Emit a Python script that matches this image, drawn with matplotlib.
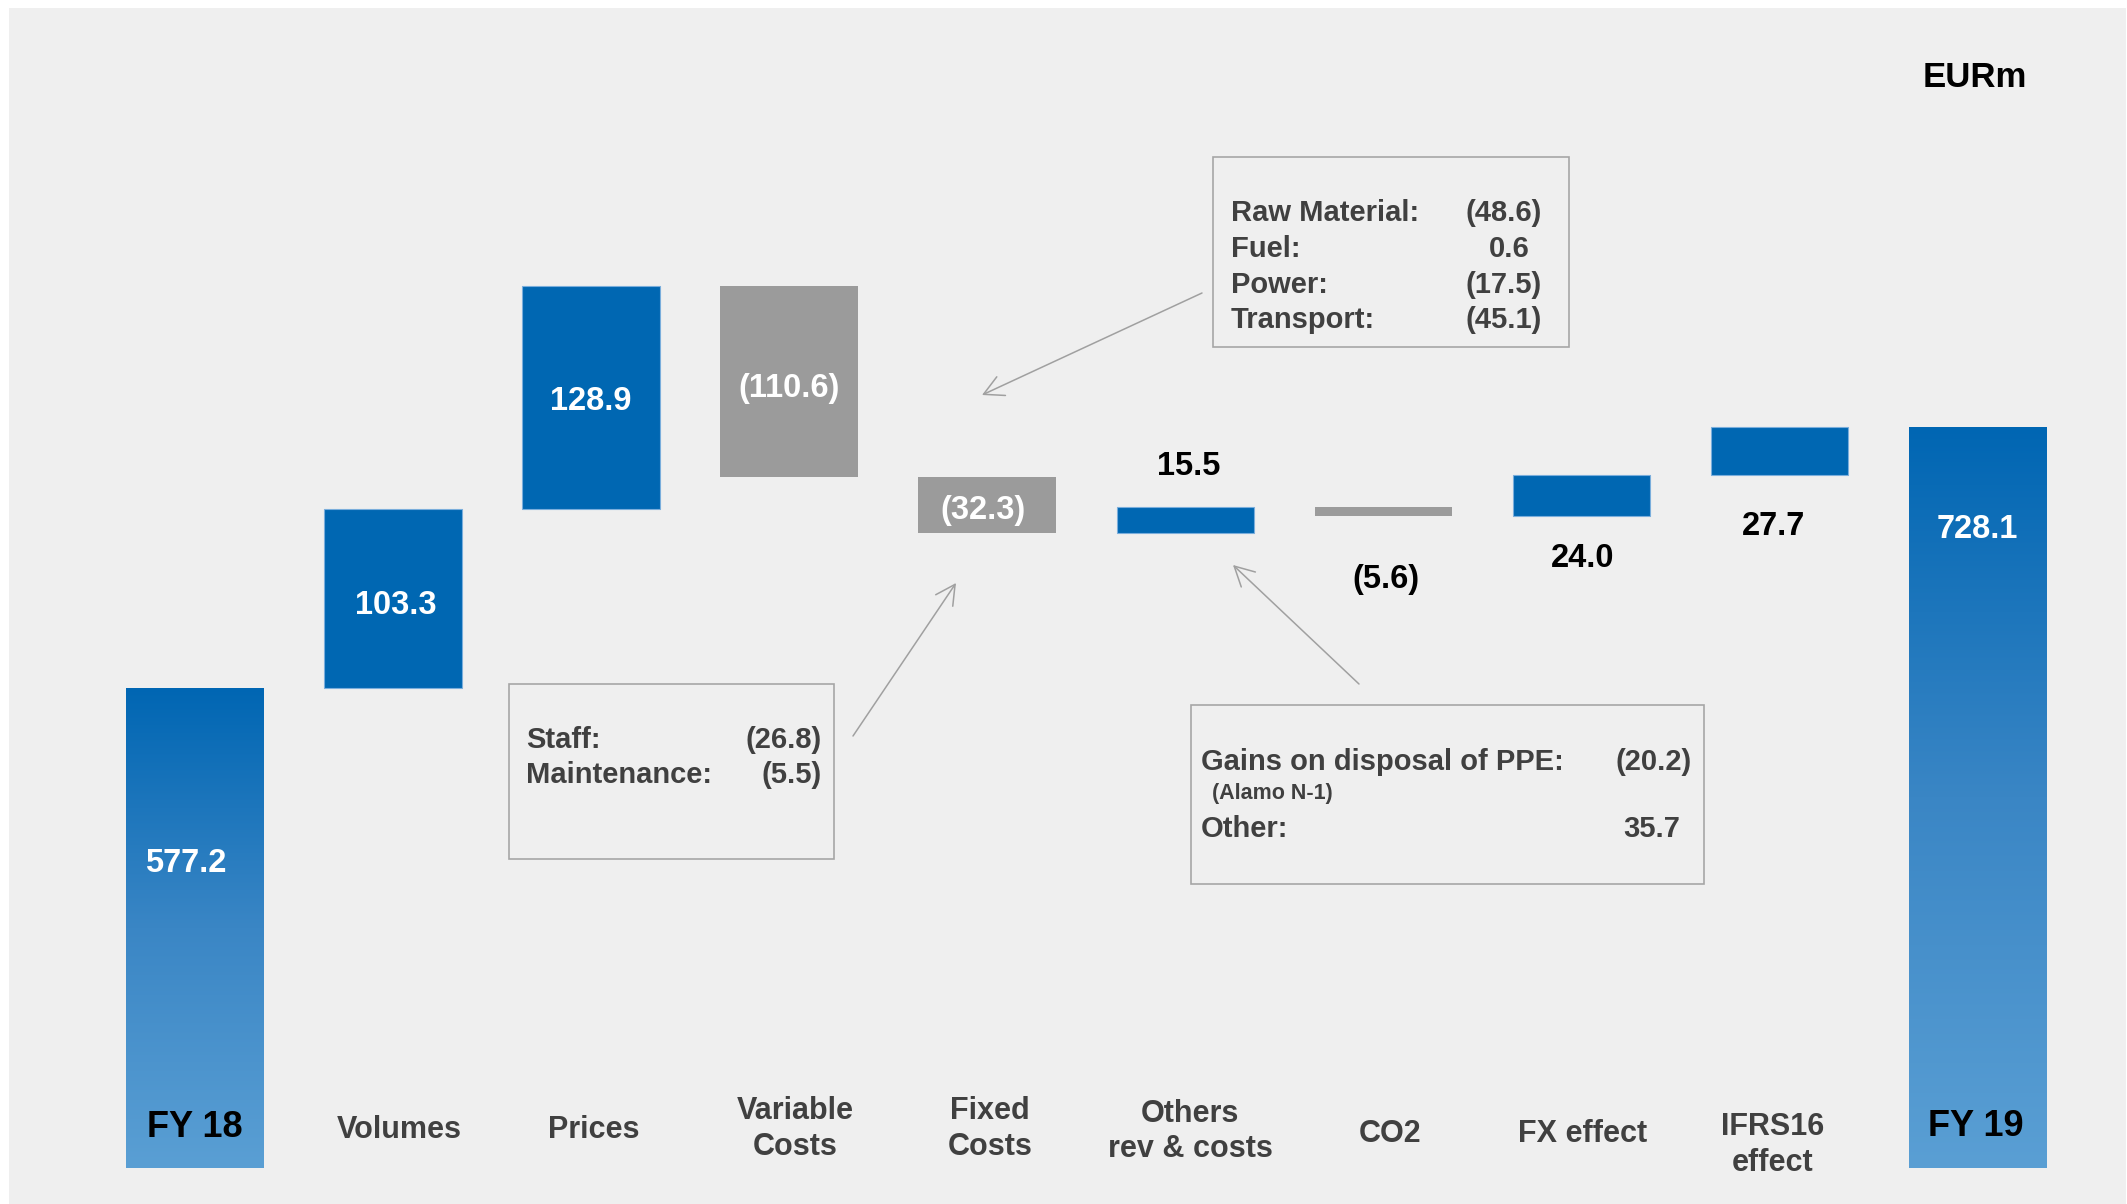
import matplotlib
matplotlib.use("Agg")
import matplotlib.pyplot as plt
import numpy as np
from matplotlib.patches import Rectangle
from matplotlib.colors import LinearSegmentedColormap

# ---------------- data ----------------
categories = ['FY 18', 'Volumes', 'Prices', 'Variable\nCosts', 'Fixed\nCosts',
              'Others\nrev & costs', 'CO2', 'FX effect', 'IFRS16\neffect', 'FY 19']
values = [577.2, 103.3, 128.9, -110.6, -32.3, 15.5, -5.6, 24.0, 27.7, 728.1]
is_total = [True, False, False, False, False, False, False, False, False, True]
value_labels = ['577.2', '103.3', '128.9', '(110.6)', '(32.3)', '15.5', '(5.6)', '24.0', '27.7', '728.1']

var_cost_items = ['Raw Material:', 'Fuel:', 'Power:', 'Transport:']
var_cost_values = ['(48.6)', '0.6', '(17.5)', '(45.1)']
fixed_cost_items = ['Staff:', 'Maintenance:']
fixed_cost_values = ['(26.8)', '(5.5)']
others_items = ['Gains on disposal of PPE:', 'Other:']
others_values = ['(20.2)', '35.7']
others_note = '(Alamo N-1)'
unit_label = 'EURm'

# ---------------- layout / style ----------------
W, H = 2127, 1204
BLUE = '#0067b2'
GREY = '#9b9b9b'
TXT = '#404040'
NARROW = ['Liberation Sans', 'DejaVu Sans']
REG = ['Liberation Sans', 'DejaVu Sans']
FS_VAL = 23.5
FS_CAT = 22
FS_TOT = 26

# label positions (data y) and small x nudges
label_y = [477.5, 626.5, 744.7, 752.0, 681.8, 706.8, 641.5, 653.7, 672.1, 670.4]
label_dx = [-0.045, 0.015, 0.0, 0.0, -0.02, 0.015, 0.015, 0.008, -0.03, 0.0]
label_white = [True, True, True, True, True, False, False, False, False, True]
cat_y_px = [1124.5, 1127, 1127, 1126, 1126, 1128.5, 1131, 1131, 1142, 1123]
cat_dx_px = [0, 6, 3, 6, 3, 5, 7, 1, -7, -2]


def px(x, y):
    return (x / W, 1 - y / H)


fig = plt.figure(figsize=(W / 100, H / 100), dpi=100)
fig.patch.set_facecolor('white')
fig.add_artist(Rectangle(px(9, 1204), (2126 - 9) / W, (1204 - 8) / H,
                         transform=fig.transFigure, facecolor='#efefef',
                         edgecolor='none', zorder=-10))

ax_left, ax_right = 95.97, 2076.5
ax_top, ax_bot = 8, 1168
ax = fig.add_axes([ax_left / W, 1 - ax_bot / H, (ax_right - ax_left) / W, (ax_bot - ax_top) / H])
k = 0.5775
ax.axis('off')
ax.patch.set_alpha(0)

# waterfall geometry
x = np.arange(len(values))
bottoms, heights, colors = [], [], []
running = 0.0
for v, tot in zip(values, is_total):
    if tot:
        bottoms.append(0.0)
        heights.append(v)
        colors.append('none')
        running = v
    else:
        bottoms.append(running if v >= 0 else running + v)
        heights.append(abs(v))
        colors.append(BLUE if v >= 0 else GREY)
        running += v

width = 0.694
bars = ax.bar(x, heights, bottom=bottoms, width=width, color=colors, linewidth=0, zorder=2)
for b, v, tot in zip(bars, values, is_total):
    if not tot and v >= 0:
        b.set_edgecolor('#7aaedc')
        b.set_linewidth(0.8)

ax.set_xlim(-0.5, 9.5)
ax.set_ylim(300, 300 + (ax_bot - ax_top) * k)

# gradient for total bars
cmap = LinearSegmentedColormap.from_list('g', ['#0066b3', '#3a86c5', '#5a9fd4'])
grad = np.linspace(0, 1, 256).reshape(-1, 1)
ylo = ax.get_ylim()[0]
for b, tot in zip(bars, is_total):
    if tot:
        x0 = b.get_x()
        top = b.get_y() + b.get_height()
        im = ax.imshow(grad, extent=[x0, x0 + b.get_width(), ylo, top], origin='upper',
                       cmap=cmap, aspect='auto', zorder=2, interpolation='bicubic')
        im.set_clip_path(b)
ax.set_xlim(-0.5, 9.5)
ax.set_ylim(300, 300 + (ax_bot - ax_top) * k)

# value labels
for i, lab in enumerate(value_labels):
    ax.annotate(lab, xy=(x[i] + label_dx[i], label_y[i]), xytext=(0, -0.358 * FS_VAL),
                textcoords='offset points', ha='center', va='baseline',
                fontsize=FS_VAL, fontweight='bold', family=NARROW,
                color='white' if label_white[i] else 'black', zorder=5)

# category labels
for i, cat in enumerate(categories):
    lines = cat.split('\n')
    tot = is_total[i]
    fs = FS_TOT if tot else FS_CAT
    col = 'black' if tot else TXT
    n = len(lines)
    cx = ax.transData.transform((x[i], 300))[0] + cat_dx_px[i]
    for j, line in enumerate(lines):
        cy = cat_y_px[i] + (j - (n - 1) / 2) * 35.5
        baseline = cy + 0.358 * fs * 100 / 72
        fig.text(*px(cx, baseline), line, ha='center', va='baseline', fontsize=fs,
                 fontweight='bold', family=NARROW, color=col, zorder=5)

# unit label
fig.text(*px(1975, 75 + 0.358 * 25 * 100 / 72), unit_label, ha='center', va='baseline',
         fontsize=25, fontweight='bold', family=REG, color='black')


def box(x0, y0, x1, y1):
    fig.add_artist(Rectangle(px(x0, y1), (x1 - x0) / W, (y1 - y0) / H, transform=fig.transFigure,
                             fill=False, edgecolor='#a6a6a6', linewidth=1.2, zorder=4))


def btext(xp, yc, s, ha, fs=21):
    fig.text(*px(xp, yc + 0.358 * fs * 100 / 72), s, ha=ha, va='baseline', fontsize=fs,
             fontweight='bold', family=REG, color=TXT, zorder=5)


def arrow(start, tip):
    ax.annotate('', xy=px(*tip), xycoords='figure fraction', xytext=px(*start),
                textcoords='figure fraction',
                arrowprops=dict(arrowstyle='->,head_length=14,head_width=7.4', color='#a0a0a0',
                                lw=1.1, mutation_scale=1, shrinkA=0, shrinkB=0))


# variable costs box
box(1213, 157, 1569, 347)
rows = [211, 247, 282.5, 318]
for item, val, yc in zip(var_cost_items, var_cost_values, rows):
    btext(1231, yc, item, 'left')
    btext(1542 if val.startswith('(') else 1530, yc, val, 'right')
arrow((1202, 293), (982, 395))

# fixed costs box
box(509, 684, 834, 859)
for item, val, yc in zip(fixed_cost_items, fixed_cost_values, [738, 773]):
    btext(526, yc, item, 'left')
    btext(822, yc, val, 'right')
arrow((853, 736), (956, 583))

# others box
box(1191, 705, 1704, 884)
btext(1201, 760, others_items[0], 'left')
btext(1692, 760, others_values[0], 'right')
btext(1212, 791, others_note, 'left', fs=15.5)
btext(1201, 827, others_items[1], 'left')
btext(1680, 827, others_values[1], 'right')
arrow((1359, 684), (1233, 565))

fig.savefig('out.png', dpi=100, facecolor=fig.get_facecolor())
